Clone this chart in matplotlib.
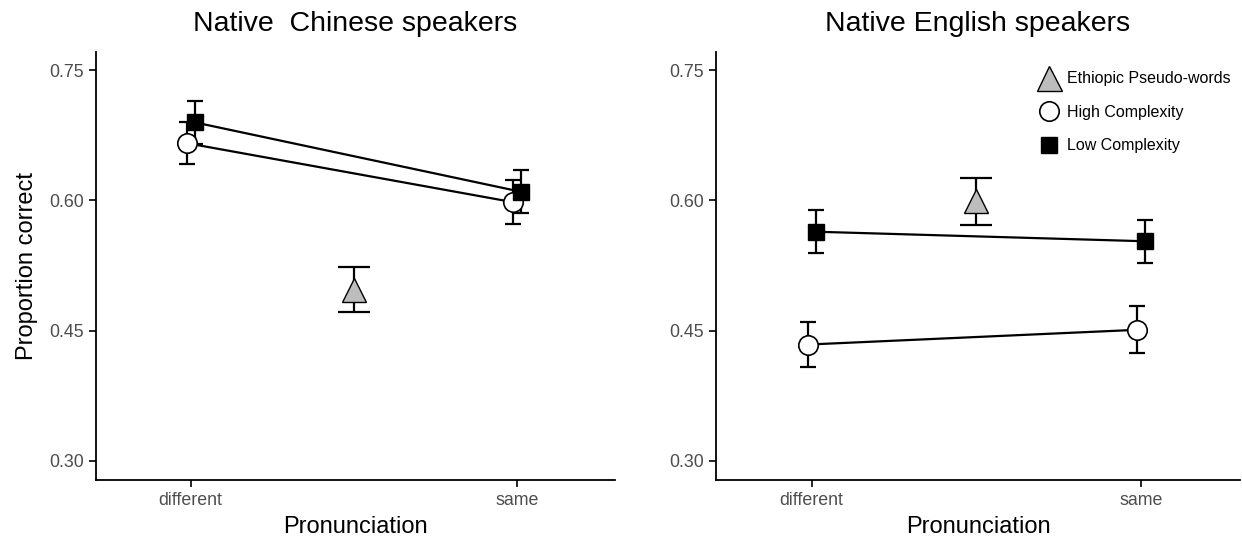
import matplotlib
matplotlib.use("Agg")
import matplotlib.pyplot as plt
from matplotlib.lines import Line2D

plt.rcParams['font.family'] = ['Liberation Sans', 'DejaVu Sans']

pronunciation = ["different", "same"]
panel_titles = ["Native  Chinese speakers", "Native English speakers"]

# Chinese speakers
cn_high = [0.666, 0.598]
cn_high_err = [0.024, 0.025]
cn_low = [0.690, 0.610]
cn_low_err = [0.025, 0.025]
cn_ethiopic = 0.497
cn_ethiopic_err = 0.026

# English speakers
en_high = [0.434, 0.451]
en_high_err = [0.026, 0.027]
en_low = [0.564, 0.553]
en_low_err = [0.025, 0.025]
en_ethiopic = 0.599
en_ethiopic_err = 0.027

yticks = [0.30, 0.45, 0.60, 0.75]
ytick_labels = ["0.30", "0.45", "0.60", "0.75"]

fig = plt.figure(figsize=(12.42, 5.40), dpi=100)
W, H = 1242, 540
ax1 = fig.add_axes([96 / W, 1 - 480 / H, (615 - 96) / W, (480 - 52) / H])
ax2 = fig.add_axes([716 / W, 1 - 480 / H, (1240 - 716) / W, (480 - 52) / H])

tick_col = "#4d4d4d"
lw = 1.6
dodge = 0.012

def draw(ax, high, high_err, low, low_err, eth, eth_err, title, ylabel):
    x = [1, 2]
    xh = [v - dodge for v in x]
    xl = [v + dodge for v in x]
    # lines
    ax.plot(xl, low, color="black", lw=lw, zorder=2)
    ax.plot(xh, high, color="black", lw=lw, zorder=2)
    # error bars
    ax.errorbar(xl, low, yerr=low_err, fmt="none", ecolor="black",
                elinewidth=lw, capsize=6, capthick=lw, zorder=1)
    ax.errorbar(xh, high, yerr=high_err, fmt="none", ecolor="black",
                elinewidth=lw, capsize=6, capthick=lw, zorder=1)
    ax.errorbar([1.5], [eth], yerr=[eth_err], fmt="none", ecolor="black",
                elinewidth=lw, capsize=11.5, capthick=lw, zorder=1)
    # points
    ax.plot(xl, low, ls="none", marker="s", ms=12, mfc="black",
            mec="black", zorder=4)
    ax.plot(xh, high, ls="none", marker="o", ms=14, mfc="white",
            mec="black", mew=1.2, zorder=3)
    ax.plot([1.5], [eth], ls="none", marker="^", ms=17, mfc="#bdbdbd",
            mec="black", mew=1.0, zorder=3)

    ax.set_xlim(0.71, 2.30)
    ax.set_ylim(0.278, 0.771)
    ax.set_xticks([1, 2])
    ax.set_xticklabels(pronunciation)
    ax.set_yticks(yticks)
    ax.set_yticklabels(ytick_labels)
    for s in ["top", "right"]:
        ax.spines[s].set_visible(False)
    for s in ["left", "bottom"]:
        ax.spines[s].set_linewidth(1.3)
    ax.tick_params(axis="both", labelsize=12.8, length=5, width=1.2,
                   color="black", labelcolor=tick_col)
    ax.set_xlabel("Pronunciation", fontsize=17, labelpad=5)
    if ylabel:
        ax.set_ylabel("Proportion correct", fontsize=17, labelpad=8)
    ax.set_title(title, fontsize=20.5, pad=15)

draw(ax1, cn_high, cn_high_err, cn_low, cn_low_err, cn_ethiopic,
     cn_ethiopic_err, panel_titles[0], True)
draw(ax2, en_high, en_high_err, en_low, en_low_err, en_ethiopic,
     en_ethiopic_err, panel_titles[1], False)

handles = [
    Line2D([], [], ls="none", marker="^", ms=18, mfc="#bdbdbd", mec="black", mew=1.0),
    Line2D([], [], ls="none", marker="o", ms=14, mfc="white", mec="black", mew=1.2),
    Line2D([], [], ls="none", marker="s", ms=12, mfc="black", mec="black"),
]
labels = ["Ethiopic Pseudo-words", "High Complexity", "Low Complexity"]
ax2.legend(handles, labels, loc="upper right", frameon=False, fontsize=11.5,
           bbox_to_anchor=(1.0, 0.977), handletextpad=0.35, labelspacing=1.15,
           borderaxespad=0.2, handlelength=1.5)

fig.savefig("out.png", dpi=100)
